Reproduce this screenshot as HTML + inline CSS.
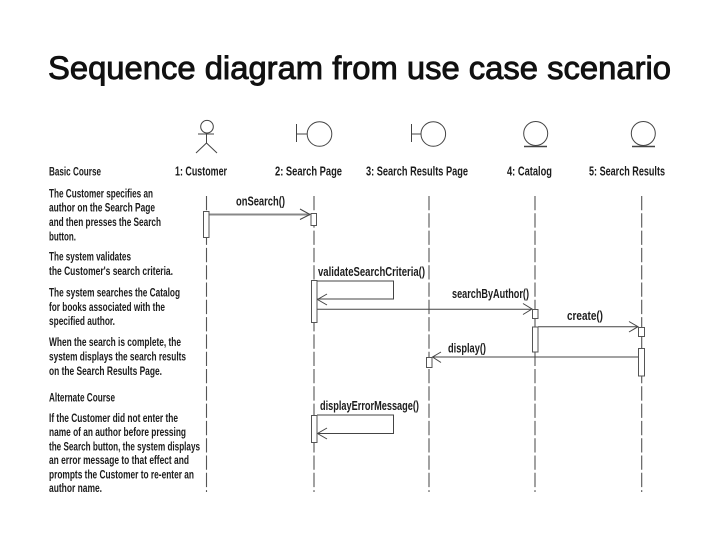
<!DOCTYPE html>
<html><head><meta charset="utf-8"><style>
html,body{margin:0;padding:0;background:#fff}
svg{display:block}
text{font-family:"Liberation Sans",sans-serif;font-weight:bold;fill:#1c1c1c}
.s{font-size:11.5px}
.l{font-size:13px}
.m{font-size:13px;font-weight:bold}
.ll{stroke:#555;stroke-width:1.1;stroke-dasharray:14.3 3;fill:none}
.g{stroke:#444;stroke-width:1;fill:none}
.a{stroke:#555;stroke-width:1;fill:#fff}
</style></head><body>
<svg width="720" height="540" viewBox="0 0 720 540" xmlns="http://www.w3.org/2000/svg">
<text x="48" y="79" textLength="623" lengthAdjust="spacingAndGlyphs" style="font-size:32px;font-weight:normal;fill:#111;stroke:#111;stroke-width:.9px">Sequence diagram from use case scenario</text>

<!-- actor -->
<g class="g">
<circle cx="207" cy="126.7" r="6.3"/>
<path d="M198 134H214M206.5 133V143M206.5 143L196 153M206.5 143L217 153"/>
<!-- boundaries -->
<circle cx="319.5" cy="134" r="12.3"/>
<path d="M296.5 124V142M296.5 134H307"/>
<circle cx="433.3" cy="134" r="12.3"/>
<path d="M411.5 124V142M411.5 134H421"/>
<!-- entities -->
<circle cx="535.7" cy="133.5" r="12"/>
<path d="M524 146.5H547" stroke-width="1.4"/>
<circle cx="643.3" cy="133.5" r="12"/>
<path d="M632 146.5H655" stroke-width="1.4"/>
</g>

<!-- lifelines -->
<path class="ll" d="M206.5 196V492"/>
<path class="ll" d="M314 196V492"/>
<path class="ll" d="M429 196V492"/>
<path class="ll" d="M535 196V492"/>
<path class="ll" d="M641.7 196V492"/>

<!-- headers -->
<text class="l" x="175" y="175.5" textLength="52" lengthAdjust="spacingAndGlyphs">1: Customer</text>
<text class="l" x="275" y="175.5" textLength="67" lengthAdjust="spacingAndGlyphs">2: Search Page</text>
<text class="l" x="366" y="175.5" textLength="102" lengthAdjust="spacingAndGlyphs">3: Search Results Page</text>
<text class="l" x="507" y="175.5" textLength="45" lengthAdjust="spacingAndGlyphs">4: Catalog</text>
<text class="l" x="589" y="175.5" textLength="76" lengthAdjust="spacingAndGlyphs">5: Search Results</text>

<!-- left text -->
<g class="s">
<text x="49" y="175.6" textLength="52" lengthAdjust="spacingAndGlyphs">Basic Course</text>
<text x="49" y="197.7" textLength="104" lengthAdjust="spacingAndGlyphs">The Customer specifies an</text>
<text x="49" y="211.7" textLength="106" lengthAdjust="spacingAndGlyphs">author on the Search Page</text>
<text x="49" y="226" textLength="112" lengthAdjust="spacingAndGlyphs">and then presses the Search</text>
<text x="49" y="240.7" textLength="27" lengthAdjust="spacingAndGlyphs">button.</text>
<text x="49" y="260.7" textLength="82" lengthAdjust="spacingAndGlyphs">The system validates</text>
<text x="49" y="275" textLength="124" lengthAdjust="spacingAndGlyphs">the Customer's search criteria.</text>
<text x="49" y="296.7" textLength="131" lengthAdjust="spacingAndGlyphs">The system searches the Catalog</text>
<text x="49" y="311" textLength="116" lengthAdjust="spacingAndGlyphs">for books associated with the</text>
<text x="49" y="325" textLength="66" lengthAdjust="spacingAndGlyphs">specified author.</text>
<text x="49" y="346" textLength="132" lengthAdjust="spacingAndGlyphs">When the search is complete, the</text>
<text x="49" y="360.7" textLength="137" lengthAdjust="spacingAndGlyphs">system displays the search results</text>
<text x="49" y="375" textLength="113" lengthAdjust="spacingAndGlyphs">on the  Search Results Page.</text>
<text x="49" y="401.7" textLength="66" lengthAdjust="spacingAndGlyphs">Alternate Course</text>
<text x="49" y="422" textLength="129" lengthAdjust="spacingAndGlyphs">If the Customer did not enter the</text>
<text x="49" y="436" textLength="137" lengthAdjust="spacingAndGlyphs">name of an author before pressing</text>
<text x="49" y="450.7" textLength="151" lengthAdjust="spacingAndGlyphs">the Search button, the system displays</text>
<text x="49" y="464" textLength="140" lengthAdjust="spacingAndGlyphs">an error message to that effect and</text>
<text x="49" y="478.3" textLength="145" lengthAdjust="spacingAndGlyphs">prompts the Customer to re-enter an</text>
<text x="49" y="492" textLength="53" lengthAdjust="spacingAndGlyphs">author name.</text>
</g>

<!-- message labels -->
<text class="m" x="236" y="205.7" textLength="49" lengthAdjust="spacingAndGlyphs">onSearch()</text>
<text class="m" x="318" y="276" textLength="107" lengthAdjust="spacingAndGlyphs">validateSearchCriteria()</text>
<text class="m" x="452" y="298" textLength="77" lengthAdjust="spacingAndGlyphs">searchByAuthor()</text>
<text class="m" x="567" y="320" textLength="36" lengthAdjust="spacingAndGlyphs">create()</text>
<text class="m" x="448" y="352.7" textLength="38" lengthAdjust="spacingAndGlyphs">display()</text>
<text class="m" x="320" y="410" textLength="99" lengthAdjust="spacingAndGlyphs">displayErrorMessage()</text>

<!-- messages -->
<g class="g">
<path d="M209 214.5H310" stroke="#888" stroke-width="2"/>
<path d="M300 209L310 214.5L300 219.5"/>
<path d="M317 281H393.5V299H317"/>
<path d="M327 294L317.5 299.5L327 305"/>
<path d="M317 309.3H531.5"/>
<path d="M523 303.5L532 309L523 314.5"/>
<path d="M538 326.7H637.5"/>
<path d="M629 321.5L638 326.7L629 332"/>
<path d="M638.5 357H432.5"/>
<path d="M441 352L432.5 357L441 362.5"/>
<path d="M317 415H393.5V433.5H317"/>
<path d="M327 428L317.5 433.5L327 439"/>
</g>

<!-- activations -->
<rect class="a" x="203.5" y="211.5" width="5.5" height="26"/>
<rect class="a" x="311" y="213.5" width="5.5" height="12"/>
<rect class="a" x="311.5" y="280.5" width="5.5" height="42"/>
<rect class="a" x="532.5" y="309.5" width="5.5" height="9"/>
<rect class="a" x="532.5" y="327" width="5.5" height="25"/>
<rect class="a" x="638.5" y="327.5" width="6" height="9"/>
<rect class="a" x="638.5" y="348.5" width="6" height="27.5"/>
<rect class="a" x="426.5" y="357.5" width="5.5" height="10"/>
<rect class="a" x="311.5" y="415.5" width="5.5" height="27"/>
</svg>
</body></html>
